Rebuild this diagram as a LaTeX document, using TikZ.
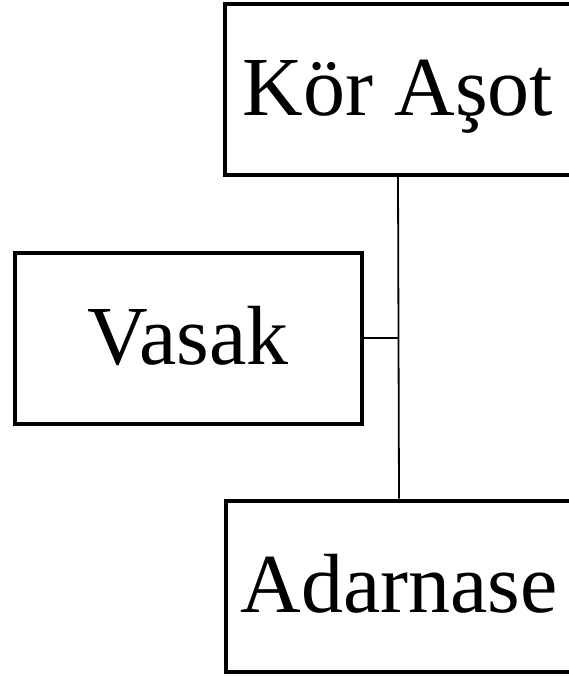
\documentclass[tikz,border=0pt]{standalone}
\usepackage{fontspec}
\setmainfont{Liberation Serif}
\usepackage{tikz}

\begin{document}
\begin{tikzpicture}[x=1pt, y=-1pt, person/.style={draw, rectangle, line width=4pt, minimum width=347pt, minimum height=171pt, inner sep=0pt, text height=52pt, text depth=0pt, font=\fontsize{84}{88}\selectfont}, link/.style={line width=1.8pt}]
                \useasboundingbox (0,0) rectangle (568,677);
                % nodes
                \node[person] (kor)   at (398,89.5)  {Kör Aşot};
                \node[person] (vasak) at (188,338)   {Vasak};
                \node[person] (adar)  at (399,586)   {Adarnase};
                \coordinate (join) at (kor.south |- vasak.east);
                % edges
                \draw [link] (kor.south) -- (adar.north);
                \draw [link] (vasak.east) -- (join);
            \end{tikzpicture}
\end{document}
